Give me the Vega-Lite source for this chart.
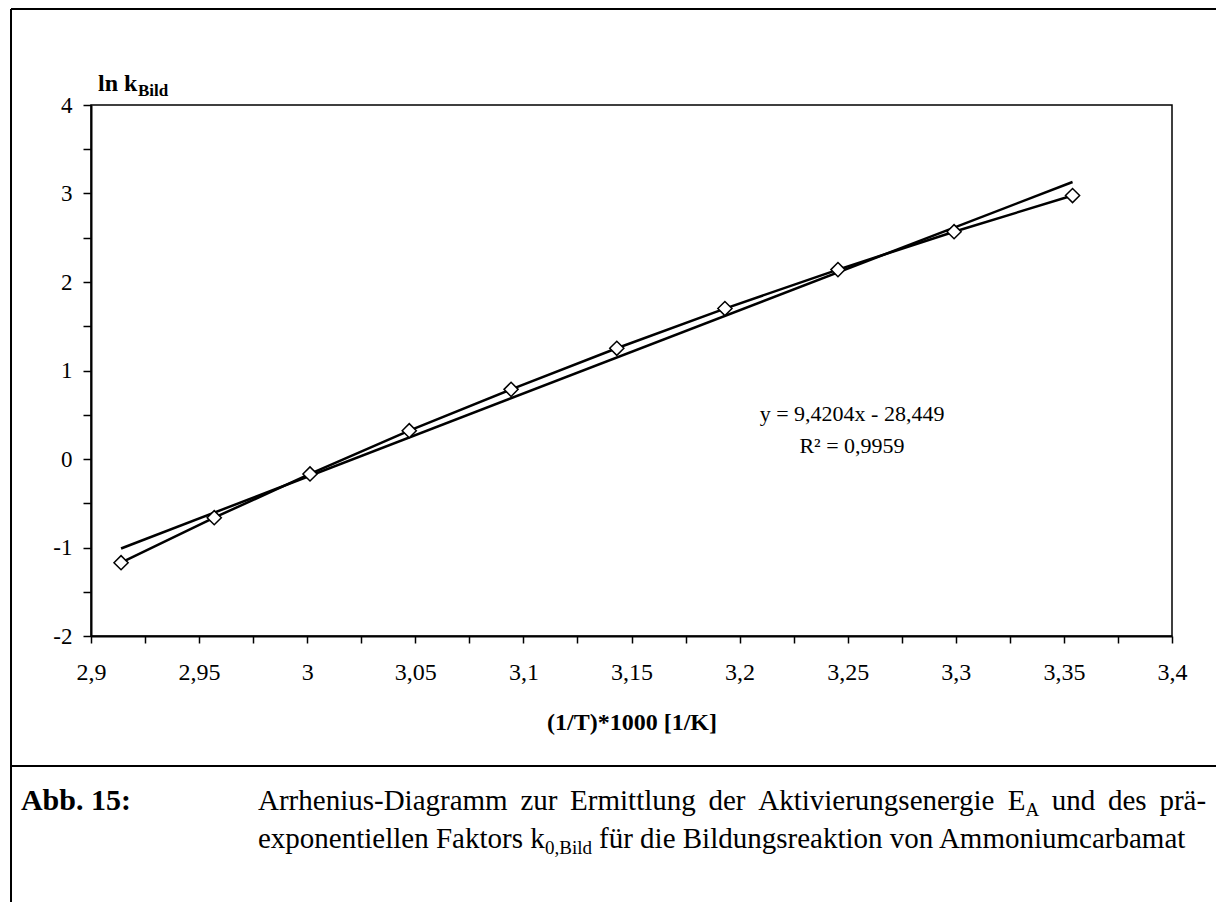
{
  "$schema": "https://vega.github.io/schema/vega-lite/v6.json",
  "width": 1081,
  "height": 531,
  "autosize": {"type": "none"},
  "padding": {"left": 91, "top": 105, "right": 44, "bottom": 266},
  "background": "white",
  "config": {
    "font": "Liberation Serif",
    "view": {"stroke": "#000", "strokeWidth": 1.5},
    "axis": {"grid": false, "domainColor": "#000", "domainWidth": 2, "tickColor": "#000", "tickWidth": 1.5, "labelColor": "#000", "titleColor": "#000"}
  },
  "datasets": {
    "pts": [
      {"x": 2.9139, "lnk": -1.172},
      {"x": 2.9570, "lnk": -0.663},
      {"x": 3.0013, "lnk": -0.169},
      {"x": 3.0472, "lnk": 0.320},
      {"x": 3.0943, "lnk": 0.787},
      {"x": 3.1432, "lnk": 1.251},
      {"x": 3.1932, "lnk": 1.700},
      {"x": 3.2455, "lnk": 2.140},
      {"x": 3.2992, "lnk": 2.568},
      {"x": 3.3540, "lnk": 2.977}
    ]
  },
  "layer": [
    {
      "data": {"name": "pts"},
      "transform": [{"regression": "lnk", "on": "x"}],
      "mark": {"type": "line", "color": "#000", "strokeWidth": 2.5},
      "encoding": {
        "x": {"field": "x", "type": "quantitative", "scale": {"domain": [2.9, 3.4], "nice": false, "zero": false},
          "axis": {
            "values": [2.9, 2.925, 2.95, 2.975, 3.0, 3.025, 3.05, 3.075, 3.1, 3.125, 3.15, 3.175, 3.2, 3.225, 3.25, 3.275, 3.3, 3.325, 3.35, 3.375, 3.4],
            "labelExpr": "round(datum.value*1000) % 50 == 0 ? replace(format(datum.value, '~g'), '.', ',') : ''",
            "title": "(1/T)*1000 [1/K]", "titleFontSize": 24, "titleFontWeight": "bold",
            "labelFontSize": 24, "tickSize": 7, "labelPadding": 17, "titlePadding": 26,
            "labelFlush": false, "labelOverlap": false
          }},
        "y": {"field": "lnk", "type": "quantitative", "scale": {"domain": [-2, 4], "nice": false, "zero": false},
          "axis": {
            "values": [-2, -1.5, -1, -0.5, 0, 0.5, 1, 1.5, 2, 2.5, 3, 3.5, 4],
            "labelExpr": "datum.value % 1 == 0 ? (datum.value < 0 ? '-' + abs(datum.value) : '' + datum.value) : ''",
            "title": "", "labelFontSize": 23, "tickSize": 8, "labelPadding": 11, "labelFlush": false, "labelOverlap": false
          }}
      }
    },
    {
      "data": {"name": "pts"},
      "mark": {"type": "line", "color": "#000", "strokeWidth": 2.5},
      "encoding": {
        "x": {"field": "x", "type": "quantitative"},
        "y": {"field": "lnk", "type": "quantitative"}
      }
    },
    {
      "data": {"name": "pts"},
      "mark": {"type": "point", "shape": "diamond", "filled": true, "fill": "white", "stroke": "#000", "strokeWidth": 1.5, "size": 200, "opacity": 1},
      "encoding": {
        "x": {"field": "x", "type": "quantitative"},
        "y": {"field": "lnk", "type": "quantitative"}
      }
    },
    {
      "data": {"values": [{}]},
      "mark": {"type": "text", "fontSize": 22, "align": "center", "baseline": "middle", "color": "#000", "clip": false},
      "encoding": {
        "x": {"datum": 3.252, "type": "quantitative"},
        "y": {"datum": 0.5085, "type": "quantitative"},
        "text": {"value": "y = 9,4204x - 28,449"}
      }
    },
    {
      "data": {"values": [{}]},
      "mark": {"type": "text", "fontSize": 22, "align": "center", "baseline": "middle", "color": "#000", "clip": false},
      "encoding": {
        "x": {"datum": 3.252, "type": "quantitative"},
        "y": {"datum": 0.147, "type": "quantitative"},
        "text": {"value": "R² = 0,9959"}
      }
    },
    {
      "data": {"values": [{}]},
      "mark": {"type": "text", "fontSize": 24, "fontWeight": "bold", "align": "left", "baseline": "alphabetic", "color": "#000", "clip": false},
      "encoding": {
        "x": {"datum": 2.90324, "type": "quantitative"},
        "y": {"datum": 4.158, "type": "quantitative"},
        "text": {"value": "ln k"}
      }
    },
    {
      "data": {"values": [{}]},
      "mark": {"type": "text", "fontSize": 17, "fontWeight": "bold", "align": "left", "baseline": "alphabetic", "color": "#000", "clip": false},
      "encoding": {
        "x": {"datum": 2.92174, "type": "quantitative"},
        "y": {"datum": 4.102, "type": "quantitative"},
        "text": {"value": "Bild"}
      }
    },
    {
      "data": {"values": [{}]},
      "mark": {"type": "rule", "color": "#000", "strokeWidth": 2, "clip": false},
      "encoding": {
        "x": {"datum": 2.863, "type": "quantitative"},
        "y": {"datum": 5.0847, "type": "quantitative"},
        "y2": {"datum": -5.04}
      }
    },
    {
      "data": {"values": [{}]},
      "mark": {"type": "rule", "color": "#000", "strokeWidth": 2, "clip": false},
      "encoding": {
        "x": {"datum": 2.863, "type": "quantitative"},
        "x2": {"datum": 3.4225},
        "y": {"datum": 5.0847, "type": "quantitative"}
      }
    },
    {
      "data": {"values": [{}]},
      "mark": {"type": "rule", "color": "#000", "strokeWidth": 2, "clip": false},
      "encoding": {
        "x": {"datum": 2.863, "type": "quantitative"},
        "x2": {"datum": 3.4225},
        "y": {"datum": -3.4689, "type": "quantitative"}
      }
    },
    {
      "data": {"values": [{}]},
      "mark": {"type": "text", "fontSize": 30, "fontWeight": "bold", "align": "left", "baseline": "alphabetic", "color": "#000", "clip": false},
      "encoding": {
        "x": {"datum": 2.8676, "type": "quantitative"},
        "y": {"datum": -3.966, "type": "quantitative"},
        "text": {"value": "Abb. 15:"}
      }
    },
    {
      "data": {"values": [{}]},
      "mark": {"type": "text", "fontSize": 29, "align": "left", "baseline": "alphabetic", "color": "#000", "clip": false},
      "encoding": {"x": {"datum": 2.977243, "type": "quantitative"}, "y": {"datum": -3.966, "type": "quantitative"}, "text": {"value": "Arrhenius-Diagramm"}}
    },
    {
      "data": {"values": [{}]},
      "mark": {"type": "text", "fontSize": 29, "align": "left", "baseline": "alphabetic", "color": "#000", "clip": false},
      "encoding": {"x": {"datum": 3.098612, "type": "quantitative"}, "y": {"datum": -3.966, "type": "quantitative"}, "text": {"value": "zur"}}
    },
    {
      "data": {"values": [{}]},
      "mark": {"type": "text", "fontSize": 29, "align": "left", "baseline": "alphabetic", "color": "#000", "clip": false},
      "encoding": {"x": {"datum": 3.1216, "type": "quantitative"}, "y": {"datum": -3.966, "type": "quantitative"}, "text": {"value": "Ermittlung"}}
    },
    {
      "data": {"values": [{}]},
      "mark": {"type": "text", "fontSize": 29, "align": "left", "baseline": "alphabetic", "color": "#000", "clip": false},
      "encoding": {"x": {"datum": 3.185615, "type": "quantitative"}, "y": {"datum": -3.966, "type": "quantitative"}, "text": {"value": "der"}}
    },
    {
      "data": {"values": [{}]},
      "mark": {"type": "text", "fontSize": 29, "align": "left", "baseline": "alphabetic", "color": "#000", "clip": false},
      "encoding": {"x": {"datum": 3.208603, "type": "quantitative"}, "y": {"datum": -3.966, "type": "quantitative"}, "text": {"value": "Aktivierungsenergie"}}
    },
    {
      "data": {"values": [{}]},
      "mark": {"type": "text", "fontSize": 29, "align": "left", "baseline": "alphabetic", "color": "#000", "clip": false},
      "encoding": {"x": {"datum": 3.324005, "type": "quantitative"}, "y": {"datum": -3.966, "type": "quantitative"}, "text": {"value": "E"}}
    },
    {
      "data": {"values": [{}]},
      "mark": {"type": "text", "fontSize": 19, "align": "left", "baseline": "alphabetic", "color": "#000", "clip": false},
      "encoding": {"x": {"datum": 3.332192, "type": "quantitative"}, "y": {"datum": -4.034, "type": "quantitative"}, "text": {"value": "A"}}
    },
    {
      "data": {"values": [{}]},
      "mark": {"type": "text", "fontSize": 29, "align": "left", "baseline": "alphabetic", "color": "#000", "clip": false},
      "encoding": {"x": {"datum": 3.344403, "type": "quantitative"}, "y": {"datum": -3.966, "type": "quantitative"}, "text": {"value": "und"}}
    },
    {
      "data": {"values": [{}]},
      "mark": {"type": "text", "fontSize": 29, "align": "left", "baseline": "alphabetic", "color": "#000", "clip": false},
      "encoding": {"x": {"datum": 3.370398, "type": "quantitative"}, "y": {"datum": -3.966, "type": "quantitative"}, "text": {"value": "des"}}
    },
    {
      "data": {"values": [{}]},
      "mark": {"type": "text", "fontSize": 29, "align": "left", "baseline": "alphabetic", "color": "#000", "clip": false},
      "encoding": {"x": {"datum": 3.394172, "type": "quantitative"}, "y": {"datum": -3.966, "type": "quantitative"}, "text": {"value": "prä-"}}
    },
    {
      "data": {"values": [{}]},
      "mark": {"type": "text", "fontSize": 29, "align": "left", "baseline": "alphabetic", "color": "#000", "clip": false},
      "encoding": {"x": {"datum": 2.977243, "type": "quantitative"}, "y": {"datum": -4.395, "type": "quantitative"}, "text": {"value": "exponentiellen Faktors k"}}
    },
    {
      "data": {"values": [{}]},
      "mark": {"type": "text", "fontSize": 19, "align": "left", "baseline": "alphabetic", "color": "#000", "clip": false},
      "encoding": {"x": {"datum": 3.10999, "type": "quantitative"}, "y": {"datum": -4.463, "type": "quantitative"}, "text": {"value": "0,Bild"}}
    },
    {
      "data": {"values": [{}]},
      "mark": {"type": "text", "fontSize": 29, "align": "left", "baseline": "alphabetic", "color": "#000", "clip": false},
      "encoding": {"x": {"datum": 3.13497, "type": "quantitative"}, "y": {"datum": -4.395, "type": "quantitative"}, "text": {"value": "für die Bildungsreaktion von Ammoniumcarbamat"}}
    }
  ]
}
